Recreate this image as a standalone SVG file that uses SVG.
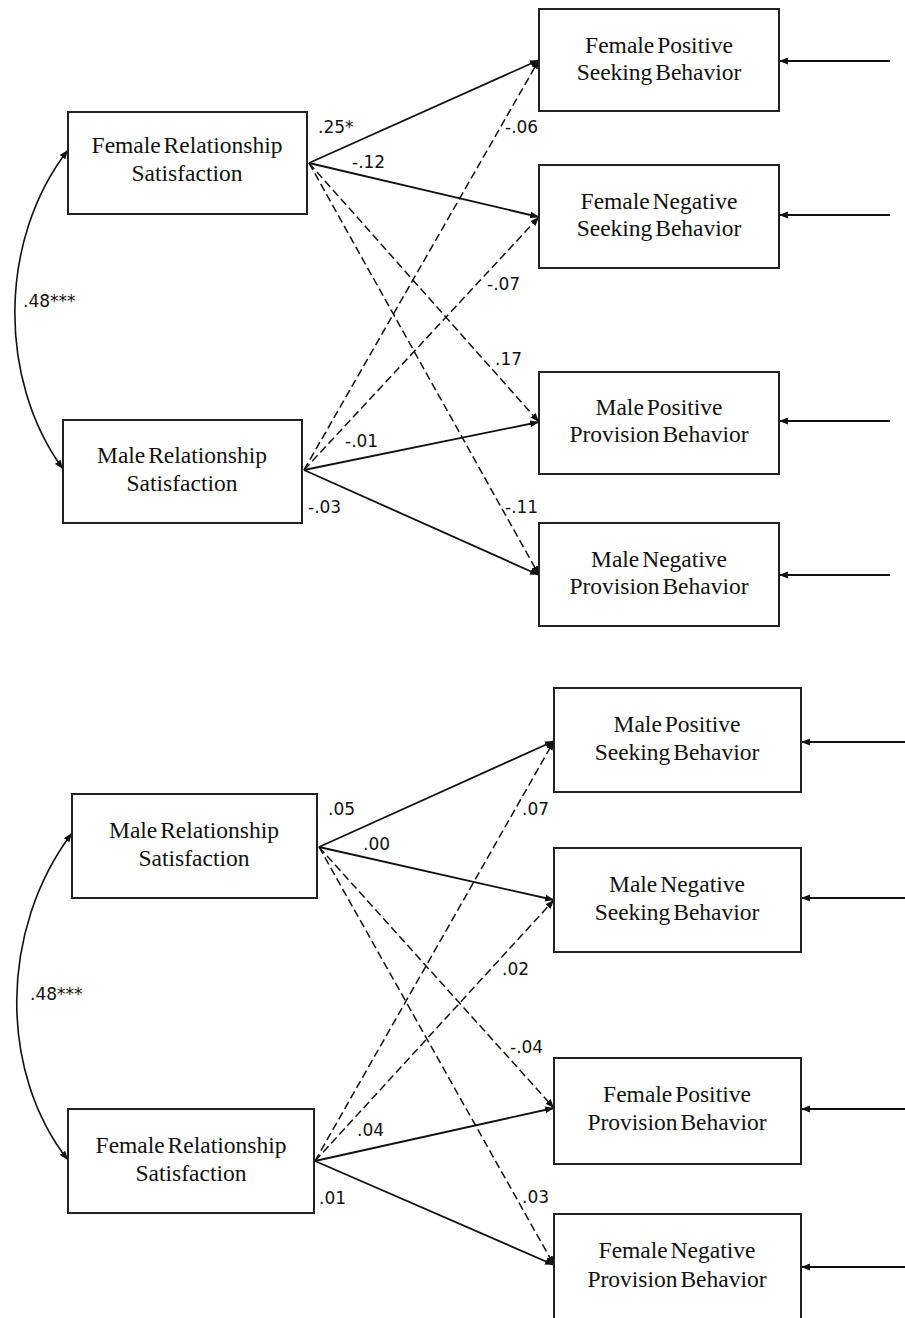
<svg xmlns="http://www.w3.org/2000/svg" width="905" height="1318" viewBox="0 0 905 1318">
<style>
.box{fill:#fff;stroke:#222;stroke-width:2}
.nt{font-family:"Liberation Serif","Times New Roman",serif;font-size:23.5px;fill:#111;text-anchor:middle;word-spacing:-3px}
.lb{font-family:"DejaVu Sans",Tahoma,sans-serif;font-size:17px;fill:#111}
.s{stroke:#111;stroke-width:1.8;fill:none;marker-end:url(#ah)}
.d{stroke:#111;stroke-width:1.5;fill:none;stroke-dasharray:8 4;marker-end:url(#ah)}
.c{stroke:#111;stroke-width:1.6;fill:none;marker-start:url(#ah);marker-end:url(#ah)}
</style>
<defs>
<marker id="ah" markerUnits="userSpaceOnUse" markerWidth="10" markerHeight="8" refX="9" refY="4" orient="auto-start-reverse">
<path d="M0,0.5 L9,4 L0,7.5 Z" fill="#111"/>
</marker>
</defs>
<rect width="905" height="1318" fill="#fff"/>

<g id="connectors">
<path class="c" d="M68,150 C-2,240 -2,380 63,469"/>
<line class="s" x1="309" y1="163" x2="539" y2="60"/>
<line class="s" x1="309" y1="163" x2="539" y2="217"/>
<line class="d" x1="309" y1="163" x2="539" y2="422"/>
<line class="d" x1="309" y1="163" x2="539" y2="575"/>
<line class="d" x1="304" y1="470" x2="539" y2="60"/>
<line class="d" x1="304" y1="470" x2="539" y2="217"/>
<line class="s" x1="304" y1="470" x2="539" y2="422"/>
<line class="s" x1="304" y1="470" x2="539" y2="575"/>
<line class="s" x1="890" y1="61" x2="779" y2="61"/>
<line class="s" x1="890" y1="215" x2="779" y2="215"/>
<line class="s" x1="890" y1="421" x2="779" y2="421"/>
<line class="s" x1="890" y1="575" x2="779" y2="575"/>
<path class="c" d="M72,833 C-1,930 -1,1072 68,1160"/>
<line class="s" x1="319" y1="847" x2="554" y2="741"/>
<line class="s" x1="319" y1="847" x2="554" y2="900"/>
<line class="d" x1="319" y1="847" x2="554" y2="1108"/>
<line class="d" x1="319" y1="847" x2="554" y2="1265"/>
<line class="d" x1="315" y1="1161" x2="554" y2="741"/>
<line class="d" x1="315" y1="1161" x2="554" y2="900"/>
<line class="s" x1="315" y1="1161" x2="554" y2="1108"/>
<line class="s" x1="315" y1="1161" x2="554" y2="1265"/>
<line class="s" x1="905" y1="742" x2="801" y2="742"/>
<line class="s" x1="905" y1="898" x2="801" y2="898"/>
<line class="s" x1="905" y1="1109" x2="801" y2="1109"/>
<line class="s" x1="905" y1="1267" x2="801" y2="1267"/>
</g>

<g id="labels">
<text class="lb" x="23" y="307">.48***</text>
<text class="lb" x="318" y="133">.25*</text>
<text class="lb" x="352" y="168">-.12</text>
<text class="lb" x="505" y="133">-.06</text>
<text class="lb" x="487" y="290">-.07</text>
<text class="lb" x="495" y="365">.17</text>
<text class="lb" x="345" y="447">-.01</text>
<text class="lb" x="308" y="513">-.03</text>
<text class="lb" x="505" y="513">-.11</text>
<text class="lb" x="30" y="1000">.48***</text>
<text class="lb" x="328" y="815">.05</text>
<text class="lb" x="363" y="850">.00</text>
<text class="lb" x="522" y="815">.07</text>
<text class="lb" x="502" y="975">.02</text>
<text class="lb" x="510" y="1053">-.04</text>
<text class="lb" x="357" y="1136">.04</text>
<text class="lb" x="319" y="1204">.01</text>
<text class="lb" x="522" y="1203">.03</text>
</g>

<g id="top-female-rel-sat">
<rect class="box" x="68" y="112" width="239" height="102"/>
<text class="nt" x="187" y="153">Female Relationship</text>
<text class="nt" x="187" y="181">Satisfaction</text>
</g>
<g id="top-male-rel-sat">
<rect class="box" x="63" y="420" width="239" height="103"/>
<text class="nt" x="182" y="463">Male Relationship</text>
<text class="nt" x="182" y="491">Satisfaction</text>
</g>
<g id="female-pos-seek">
<rect class="box" x="539" y="9" width="240" height="102"/>
<text class="nt" x="659" y="53">Female Positive</text>
<text class="nt" x="659" y="80">Seeking Behavior</text>
</g>
<g id="female-neg-seek">
<rect class="box" x="539" y="165" width="240" height="103"/>
<text class="nt" x="659" y="209">Female Negative</text>
<text class="nt" x="659" y="236">Seeking Behavior</text>
</g>
<g id="male-pos-prov">
<rect class="box" x="539" y="372" width="240" height="102"/>
<text class="nt" x="659" y="415">Male Positive</text>
<text class="nt" x="659" y="442">Provision Behavior</text>
</g>
<g id="male-neg-prov">
<rect class="box" x="539" y="523" width="240" height="103"/>
<text class="nt" x="659" y="567">Male Negative</text>
<text class="nt" x="659" y="594">Provision Behavior</text>
</g>

<g id="bottom-male-rel-sat">
<rect class="box" x="72" y="794" width="245" height="104"/>
<text class="nt" x="194" y="838">Male Relationship</text>
<text class="nt" x="194" y="866">Satisfaction</text>
</g>
<g id="bottom-female-rel-sat">
<rect class="box" x="68" y="1109" width="246" height="104"/>
<text class="nt" x="191" y="1153">Female Relationship</text>
<text class="nt" x="191" y="1181">Satisfaction</text>
</g>
<g id="male-pos-seek">
<rect class="box" x="554" y="688" width="247" height="104"/>
<text class="nt" x="677" y="732">Male Positive</text>
<text class="nt" x="677" y="760">Seeking Behavior</text>
</g>
<g id="male-neg-seek">
<rect class="box" x="554" y="848" width="247" height="104"/>
<text class="nt" x="677" y="892">Male Negative</text>
<text class="nt" x="677" y="920">Seeking Behavior</text>
</g>
<g id="female-pos-prov">
<rect class="box" x="554" y="1058" width="247" height="106"/>
<text class="nt" x="677" y="1102">Female Positive</text>
<text class="nt" x="677" y="1130">Provision Behavior</text>
</g>
<g id="female-neg-prov">
<rect class="box" x="554" y="1214" width="247" height="108"/>
<text class="nt" x="677" y="1258">Female Negative</text>
<text class="nt" x="677" y="1287">Provision Behavior</text>
</g>
</svg>
